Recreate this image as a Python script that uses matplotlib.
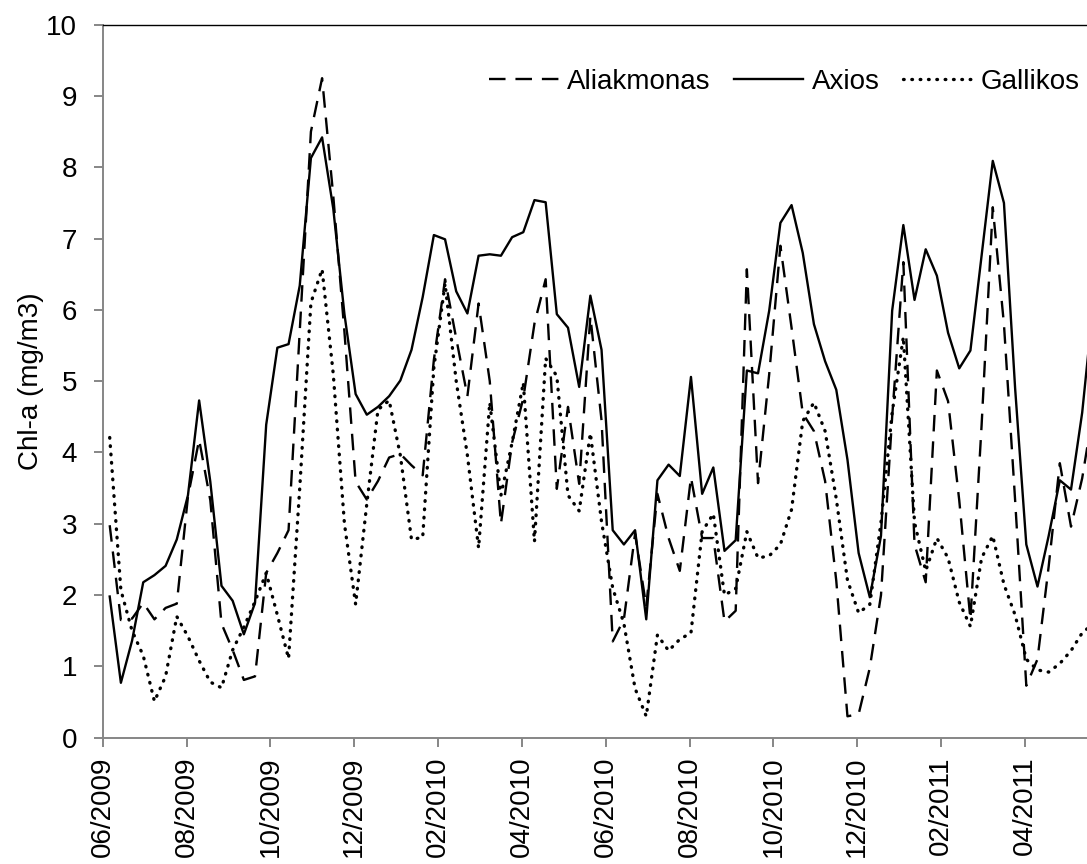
import pandas as pd
import matplotlib
matplotlib.use('Agg')
import matplotlib.pyplot as plt
import matplotlib.dates as mdates

plt.rcParams['font.family'] = ['Liberation Sans', 'DejaVu Sans']

# 8-day composites, first one plotted mid-June 2009
dates = pd.date_range('2009-06-16', periods=89, freq='8D')

aliakmonas = [2.98, 1.65, 1.67, 1.89, 1.66, 1.82, 1.88, 3.38, 4.18, 3.33,
              1.60, 1.23, 0.81, 0.86, 2.31, 2.59, 2.91, 5.7, 8.5, 9.25,
              7.6, 5.69, 3.59, 3.34, 3.6, 3.93, 3.98, 3.82, 3.68, 5.3,
              6.43, 5.6, 4.79, 6.09, 5.0, 3.0, 4.14, 4.76, 5.81, 6.43,
              3.49, 4.64, 3.56, 5.91, 4.45, 1.35, 1.66, 2.86, 1.84, 3.42,
              2.80, 2.34, 3.65, 2.80, 2.80, 1.63, 1.78, 6.57, 3.57, 5.1,
              6.9, 5.75, 4.55, 4.3, 3.6, 2.2, 0.30, 0.33, 0.98, 2.0,
              4.5, 6.67, 2.71, 2.18, 5.15, 4.72, 3.33, 1.66, 4.38, 7.44,
              5.8, 3.33, 0.73, 1.10, 2.4, 3.85, 2.96, 3.64, 4.6]

axios = [1.98, 0.77, 1.36, 2.18, 2.28, 2.41, 2.78, 3.40, 4.73, 3.59,
         2.13, 1.92, 1.45, 1.89, 4.39, 5.47, 5.52, 6.34, 8.13, 8.42,
         7.42, 5.94, 4.82, 4.53, 4.64, 4.79, 5.01, 5.44, 6.18, 7.05,
         6.99, 6.26, 5.95, 6.76, 6.78, 6.76, 7.02, 7.09, 7.54, 7.51,
         5.94, 5.75, 4.92, 6.20, 5.44, 2.91, 2.71, 2.91, 1.66, 3.61,
         3.83, 3.67, 5.06, 3.42, 3.79, 2.62, 2.77, 5.15, 5.11, 5.99,
         7.22, 7.47, 6.80, 5.80, 5.28, 4.88, 3.9, 2.59, 1.97, 2.83,
         5.99, 7.19, 6.14, 6.85, 6.48, 5.68, 5.18, 5.43, 6.76, 8.09,
         7.50, 4.9, 2.71, 2.12, 2.83, 3.61, 3.48, 4.56, 6.1]

gallikos = [4.21, 2.07, 1.5, 1.15, 0.51, 0.86, 1.70, 1.42, 1.08, 0.78,
            0.70, 1.23, 1.55, 1.91, 2.31, 1.72, 1.11, 3.5, 6.1, 6.57,
            5.1, 3.0, 1.87, 3.28, 4.6, 4.73, 3.96, 2.78, 2.81, 5.19,
            6.37, 5.0, 3.96, 2.66, 4.7, 3.4, 4.14, 4.98, 2.75, 5.32,
            5.07, 3.40, 3.18, 4.27, 3.03, 2.1, 1.6, 0.69, 0.30, 1.44,
            1.22, 1.38, 1.47, 2.89, 3.14, 2.0, 2.09, 2.89, 2.52, 2.55,
            2.71, 3.2, 4.44, 4.70, 4.3, 3.35, 2.21, 1.75, 1.87, 3.02,
            4.56, 5.62, 3.02, 2.34, 2.80, 2.52, 1.9, 1.56, 2.52, 2.83,
            2.15, 1.72, 1.10, 0.95, 0.92, 1.04, 1.22, 1.47, 1.6]

# excel style axis: a tick every 60 days
tick_start = pd.Timestamp('2009-06-11')
tick_dates = [tick_start + pd.Timedelta(days=60 * i) for i in range(12)]

fig = plt.figure(figsize=(10.87, 8.64), dpi=100)
# the plot area runs past the right edge of the picture
ax = fig.add_axes([0.0945, 0.1462, 0.9255, 0.8252])

ax.plot(dates, aliakmonas, color='black', lw=1.7, linestyle=(0, (7, 4.2)),
        label='Aliakmonas')
ax.plot(dates, axios, color='black', lw=1.7, label='Axios')
ax.plot(dates, gallikos, color='black', lw=2.4, linestyle=(0, (0.2, 2.3)),
        dash_capstyle='round', label='Gallikos')

ax.set_xlim(tick_start, tick_start + pd.Timedelta(days=720))
ax.set_ylim(0, 10)
ax.set_yticks(range(0, 11))
ax.set_xticks(tick_dates)
ax.xaxis.set_major_formatter(mdates.DateFormatter('%m/%Y'))

grey = '#868686'
for side in ['left', 'bottom']:
    ax.spines[side].set_color(grey)
    ax.spines[side].set_linewidth(1.4)
ax.spines['top'].set_color('black')
ax.spines['top'].set_linewidth(1.0)
ax.spines['right'].set_visible(False)

ax.tick_params(axis='both', direction='out', length=6.3, width=1.4,
               color=grey, labelsize=20, labelcolor='black')
ax.tick_params(axis='y', pad=12)
ax.tick_params(axis='x', pad=7)
plt.setp(ax.get_xticklabels(), rotation=90)

fig.text(31 / 1087, 1 - 381 / 864, 'Chl-a (mg/m3)', rotation=90,
         ha='center', va='center', fontsize=20)

ax.legend(loc='center right', bbox_to_anchor=(1080 / 1087, 1 - 82 / 864),
          bbox_transform=fig.transFigure, ncol=3, frameon=False, fontsize=20,
          handlelength=2.5, handletextpad=0.3, columnspacing=0.85,
          borderpad=0, borderaxespad=0)

fig.savefig('out.png', dpi=100)
